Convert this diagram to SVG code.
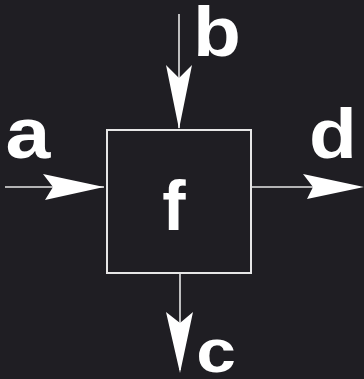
<svg xmlns="http://www.w3.org/2000/svg" width="364" height="379" viewBox="0 0 364 379">
  <style>
    .bg { fill: #1f1e23; }
    .box { fill: none; stroke: #e6e6e6; stroke-width: 2; }
    .wire { fill: none; stroke: #e6e6e6; stroke-width: 1.6; }
    .head { fill: #ffffff; stroke: none; }
    .lbl { fill: #ffffff; font-family: "Liberation Sans", Arial, sans-serif; font-weight: bold; text-anchor: middle; }
  </style>
  <rect class="bg" x="0" y="0" width="364" height="379"/>

  <!-- inputs, outputs and their arrowheads -->
  <g id="connectors">
    <line class="wire" x1="5" y1="187" x2="104" y2="187"/>
    <path class="head" d="M104,187 L43,174 L53,187 L45,200 Z"/>
    <line class="wire" x1="252" y1="187" x2="360" y2="187"/>
    <path class="head" d="M364,187 L303,174 L313,187 L307,199 Z"/>
    <line class="wire" x1="179" y1="14" x2="179" y2="128"/>
    <path class="head" d="M179,129 L166,65 L179,78 L192,65 Z"/>
    <line class="wire" x1="180" y1="273" x2="180" y2="370"/>
    <path class="head" d="M180,373 L166,312 L180,323 L193,312 Z"/>
  </g>

  <g id="node-f">
    <rect class="box" x="107" y="130" width="144" height="143"/>
    <text class="lbl" x="174" y="230" font-size="70">f</text>
  </g>

  <!-- port labels, widened for a rounder letterform -->
  <g id="label-a" transform="translate(28,158) scale(1.12,1)"><text class="lbl" x="0" y="0" font-size="72">a</text></g>
  <g id="label-b" transform="translate(217,56) scale(1.12,1)"><text class="lbl" x="0" y="0" font-size="70">b</text></g>
  <g id="label-c" transform="translate(216,372) scale(1.15,1)"><text class="lbl" x="0" y="0" font-size="62">c</text></g>
  <g id="label-d" transform="translate(333,158) scale(1.12,1)"><text class="lbl" x="0" y="0" font-size="70">d</text></g>
</svg>
